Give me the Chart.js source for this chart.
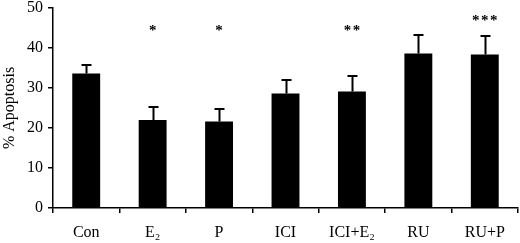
<!DOCTYPE html>
<html>
<head>
<meta charset="utf-8">
<script src="https://cdn.jsdelivr.net/npm/chart.js@4"></script>
<style>
  html, body { margin: 0; padding: 0; background: #fff; }
  #wrap { width: 520px; height: 243px; }
</style>
</head>
<body>
<div id="wrap"><canvas id="apoptosisChart"></canvas></div>
<script>
// data
const groups = ["Con", "E\u2082", "P", "ICI", "ICI+E\u2082", "RU", "RU+P"];
const apoptosis = [33.6, 22.0, 21.6, 28.6, 29.1, 38.6, 38.4];
const errUp = [2.2, 3.3, 3.2, 3.3, 3.9, 4.7, 4.5];
const signif = ["", "*", "*", "", "**", "", "***"];
const signifLevel = [0, 45, 45, 0, 45, 0, 47.5];
const yTicks = [0, 10, 20, 30, 40, 50];

const serif = "'Liberation Serif', 'Times New Roman', serif";

// error bars (upper half only) + asterisks
const extrasPlugin = {
  id: "extras",
  afterDatasetsDraw(chart) {
    const ctx = chart.ctx;
    const x = chart.scales.x;
    const y = chart.scales.y;
    ctx.save();
    ctx.strokeStyle = "#000";
    ctx.lineWidth = 2;
    apoptosis.forEach((v, i) => {
      const cx = Math.round(x.getPixelForValue(i)) + 0.5;
      const yTop = y.getPixelForValue(v);
      const yErr = Math.round(y.getPixelForValue(v + errUp[i]));
      ctx.beginPath();
      ctx.moveTo(cx, yTop);
      ctx.lineTo(cx, yErr);
      ctx.moveTo(cx - 5, yErr);
      ctx.lineTo(cx + 5, yErr);
      ctx.stroke();
    });
    ctx.fillStyle = "#000";
    ctx.font = "bold 15px " + serif;
    ctx.textAlign = "center";
    ctx.textBaseline = "middle";
    signif.forEach((s, i) => {
      if (!s) return;
      const cx = x.getPixelForValue(i);
      const sy = y.getPixelForValue(signifLevel[i]) + 3;
      const n = s.length;
      for (let k = 0; k < n; k++) {
        ctx.fillText("*", cx + (k - (n - 1) / 2) * 9, sy);
      }
    });
    ctx.restore();
  }
};

new Chart(document.getElementById("apoptosisChart"), {
  type: "bar",
  data: {
    labels: groups,
    datasets: [{
      data: apoptosis,
      backgroundColor: "#000",
      borderWidth: 0,
      barPercentage: 0.42,
      categoryPercentage: 1.0
    }]
  },
  options: {
    responsive: true,
    maintainAspectRatio: false,
    animation: false,
    layout: { padding: { top: 0, right: 2, bottom: 0, left: 0 } },
    plugins: {
      legend: { display: false },
      tooltip: { enabled: false }
    },
    scales: {
      x: {
        afterFit: s => { s.height = 35; },
        grid: {
          display: true,
          drawOnChartArea: false,
          drawTicks: true,
          tickLength: 5,
          color: "#000",
          lineWidth: 1.5
        },
        border: { color: "#000", width: 1.5 },
        ticks: {
          color: "#000",
          font: { family: serif, size: 16 },
          padding: 10,
          maxRotation: 0
        }
      },
      y: {
        min: 0,
        max: 50,
        afterBuildTicks: s => { s.ticks = yTicks.map(v => ({ value: v })); },
        afterFit: s => { s.width = 53; s.paddingTop = 8; s.paddingBottom = 0; },
        grid: {
          display: true,
          drawOnChartArea: false,
          tickLength: 5,
          color: "#000",
          lineWidth: 1.5
        },
        border: { color: "#000", width: 1.5 },
        ticks: {
          color: "#000",
          font: { family: serif, size: 16 },
          padding: 5
        },
        title: {
          display: true,
          text: "% Apoptosis",
          color: "#000",
          font: { family: serif, size: 16 },
          padding: { top: 0, bottom: 0 }
        }
      }
    }
  },
  plugins: [extrasPlugin]
});
</script>
</body>
</html>
